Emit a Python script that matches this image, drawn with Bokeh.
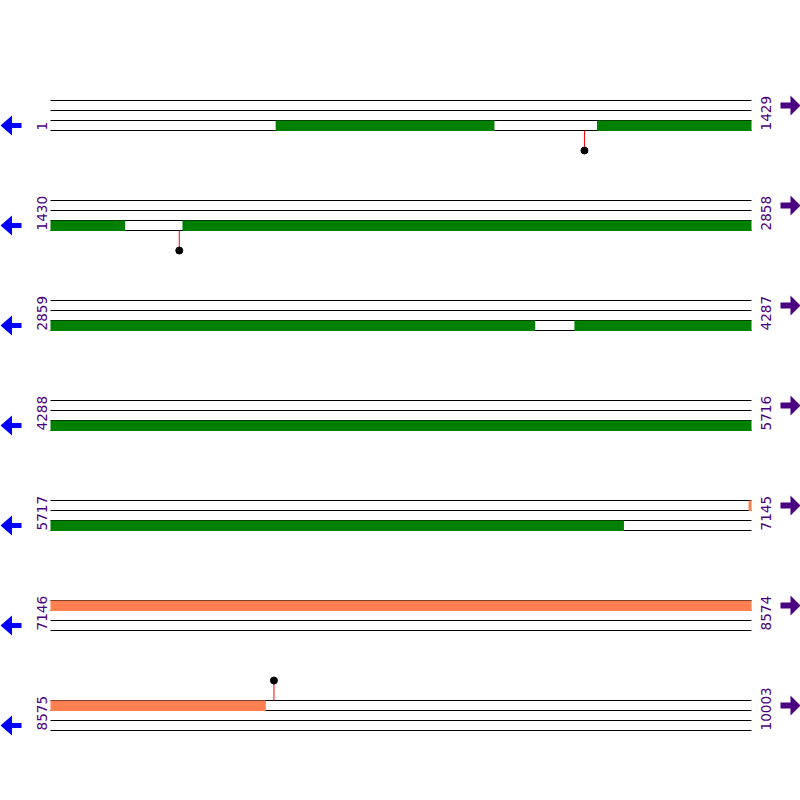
import math
from bokeh.plotting import figure
from bokeh.models import Range1d
from bokeh.core.properties import value
from bokeh.embed import file_html
from bokeh.resources import INLINE

# ---------------- data ----------------
row_starts = [1, 1430, 2859, 4288, 5717, 7146, 8575]
row_ends = [1429, 2858, 4287, 5716, 7145, 8574, 10003]

# features on the reverse strand (green) and forward strand (coral)
reverse_starts = [460, 1115, 1699, 3927]
reverse_ends = [905, 1581, 3846, 6885]
forward_starts = [7140]
forward_ends = [9013]

# marked sites (lollipops)
site_positions = [1089, 1692, 9030]
site_strands = ["-", "-", "+"]

# ---------------- layout (reference pixel units, 800 canvas) ----------------
ROW_BP = row_ends[0] - row_starts[0] + 1
X0_PX, X1_PX = 50, 751
bp_per_px = ROW_BP / (X1_PX - X0_PX)
ROW_Y0, ROW_STEP, TRACK_STEP = 100, 100, 10
W = H = 800

GREEN = "#008000"
CORAL = "#FF7F50"
PURPLE = "#4B0082"
BLUE = "#0000FF"

p = figure(width=W, height=H,
           x_range=Range1d(-X0_PX * bp_per_px, (W - X0_PX) * bp_per_px),
           y_range=Range1d(H, 0),
           x_axis_location=None, y_axis_location=None,
           output_backend="svg", toolbar_location=None, min_border=0)
p.extra_x_ranges = {"px": Range1d(0, W)}
p.grid.visible = False
p.outline_line_color = None
p.background_fill_color = "white"
p.border_fill_color = "white"

row_y = [ROW_Y0 + ROW_STEP * i for i in range(len(row_starts))]

# track lines
lx0, lx1, ly = [], [], []
for y0, rs, re in zip(row_y, row_starts, row_ends):
    for k in range(4):
        lx0.append(0)
        lx1.append(re - rs + 1)
        ly.append(y0 + k * TRACK_STEP)
p.segment(x0=lx0, x1=lx1, y0=ly, y1=ly, line_color="black", line_width=1)

# features, split over rows
def add_features(starts, ends, track, color):
    L, R, T, B = [], [], [], []
    for s, e in zip(starts, ends):
        for y0, rs, re in zip(row_y, row_starts, row_ends):
            a, b = max(s, rs), min(e, re)
            if a <= b:
                L.append(a - rs)
                R.append(b - rs + 1)
                T.append(y0 + track * TRACK_STEP)
                B.append(y0 + (track + 1) * TRACK_STEP + 0.5)
    p.quad(left=L, right=R, top=T, bottom=B, fill_color=color, line_color=None)

add_features(forward_starts, forward_ends, 0, CORAL)
add_features(reverse_starts, reverse_ends, 2, GREEN)

# lollipops
sx, sy0, sy1 = [], [], []
for pos, strand in zip(site_positions, site_strands):
    for y0, rs, re in zip(row_y, row_starts, row_ends):
        if rs <= pos <= re:
            x = pos - rs + 0.5
            if strand == "-":
                base, tip = y0 + 3 * TRACK_STEP, y0 + 5 * TRACK_STEP
            else:
                base, tip = y0, y0 - 2 * TRACK_STEP
            sx.append(x); sy0.append(base); sy1.append(tip)
p.segment(x0=sx, x1=sx, y0=sy0, y1=sy1, line_color="red", line_width=1)
p.scatter(x=sx, y=sy1, size=7, fill_color="black", line_color="black")

# coordinate labels
font = value("DejaVu Sans")
fs = "13.6px"
p.text(x=[41] * len(row_y), y=[y + 30 for y in row_y], text=[str(v) for v in row_starts],
       x_range_name="px", angle=math.pi / 2, text_align="left", text_baseline="middle",
       text_font=font, text_font_size=fs, text_color=PURPLE)
p.text(x=[765.5] * len(row_y), y=[y + 30 for y in row_y], text=[str(v) for v in row_ends],
       x_range_name="px", angle=math.pi / 2, text_align="left", text_baseline="middle",
       text_font=font, text_font_size=fs, text_color=PURPLE)

# strand arrows
lxs, lys, rxs, rys = [], [], [], []
for y0 in row_y:
    c = y0 + 25
    lxs.append([0, 11.5, 11.5, 21, 21, 11.5, 11.5])
    lys.append([c, c - 10, c - 2.5, c - 2.5, c + 2.5, c + 2.5, c + 10])
    c = y0 + 5
    rxs.append([800, 790, 790, 780, 780, 790, 790])
    rys.append([c, c - 10, c - 3, c - 3, c + 3, c + 3, c + 10])
p.patches(xs=lxs, ys=lys, x_range_name="px", fill_color=BLUE, line_color=None)
p.patches(xs=rxs, ys=rys, x_range_name="px", fill_color=PURPLE, line_color=None)

open("out.html", "w").write(file_html(p, INLINE))
